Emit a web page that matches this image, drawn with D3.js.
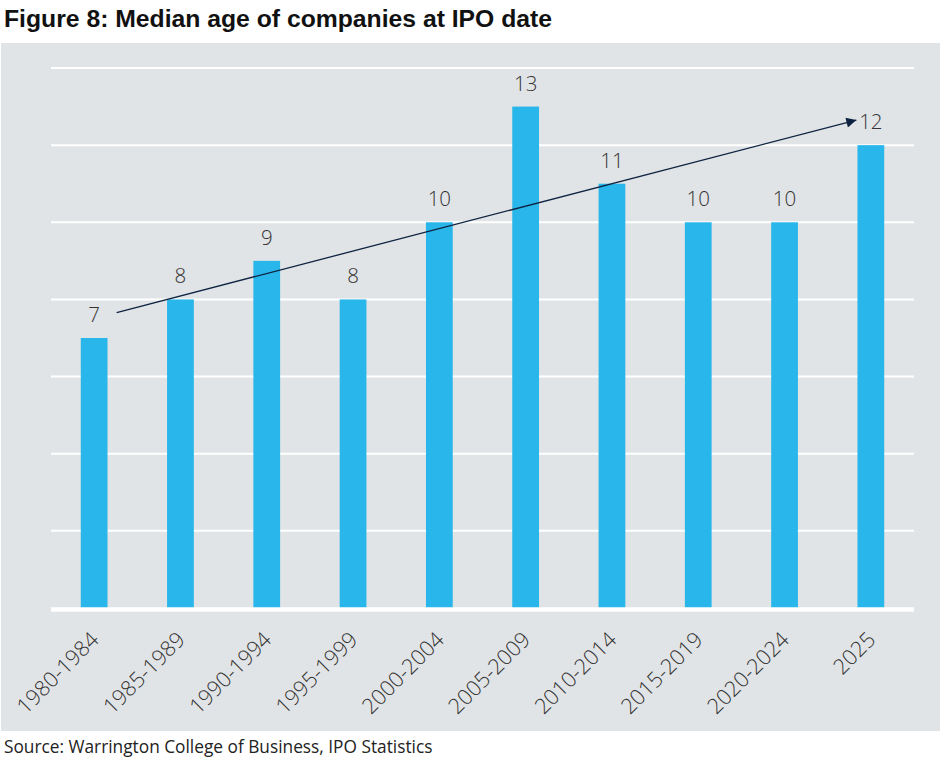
<!DOCTYPE html>
<html>
<head>
<meta charset="utf-8">
<script src="https://cdn.jsdelivr.net/npm/d3@7"></script>
<style>
  body { margin: 0; background: #fff; }
</style>
</head>
<body>
<svg id="chart"></svg>
<script>
const periods = ["1980-1984", "1985-1989", "1990-1994", "1995-1999", "2000-2004",
                 "2005-2009", "2010-2014", "2015-2019", "2020-2024", "2025"]
const medianAge = [7, 8, 9, 8, 10, 13, 11, 10, 10, 12]
const gridTicks = [0, 2, 4, 6, 8, 10, 12, 14]
const trendFrom = 7.66
const trendTo = 12.65

const width = 945
const height = 760

const svg = d3.select("#chart")
              .attr("width", width)
              .attr("height", height)

svg.append("rect")
   .attr("x", 1).attr("y", 43)
   .attr("width", 939).attr("height", 688)
   .attr("fill", "#e1e4e6")

svg.append("text")
   .attr("x", 4).attr("y", 27)
   .attr("font-family", "Liberation Sans, Arial, sans-serif")
   .attr("font-weight", "bold")
   .attr("font-size", 24)
   .attr("textLength", 548)
   .attr("lengthAdjust", "spacingAndGlyphs")
   .attr("fill", "#111")
   .text("Figure 8: Median age of companies at IPO date")

svg.append("text")
   .attr("x", 4).attr("y", 753)
   .attr("font-family", "Open Sans, sans-serif")
   .attr("font-size", 17.3)
   .attr("fill", "#222")
   .text("Source: Warrington College of Business, IPO Statistics")

const x = d3.scaleBand()
            .domain(periods)
            .range([51, 914])
            .paddingInner(0.69)
            .paddingOuter(0.345)

const y = d3.scaleLinear()
            .domain([0, 14])
            .range([608, 68])

// white gridlines
svg.append("g")
   .selectAll("line")
   .data(gridTicks.filter(d => d > 0))
   .join("line")
   .attr("x1", 51).attr("x2", 914)
   .attr("y1", d => y(d)).attr("y2", d => y(d))
   .attr("stroke", "#fff")
   .attr("stroke-width", 2)

svg.append("g")
   .selectAll("rect")
   .data(medianAge)
   .join("rect")
   .attr("x", (d, i) => x(periods[i]))
   .attr("y", d => y(d))
   .attr("width", x.bandwidth())
   .attr("height", d => y(0) - y(d))
   .attr("fill", "#29b6ea")

// baseline
svg.append("line")
   .attr("x1", 51).attr("x2", 914)
   .attr("y1", y(0) + 1.5).attr("y2", y(0) + 1.5)
   .attr("stroke", "#fff")
   .attr("stroke-width", 4.5)

svg.append("g")
   .selectAll("text")
   .data(medianAge)
   .join("text")
   .attr("x", (d, i) => x(periods[i]) + x.bandwidth() / 2)
   .attr("y", d => y(d) - 16)
   .attr("text-anchor", "middle")
   .attr("font-family", "Open Sans, sans-serif")
   .attr("font-weight", 300)
   .attr("font-size", 20.5)
   .attr("fill", "#333")
   .text(d => d)

const xAxis = d3.axisBottom(x).tickSize(0).tickPadding(0)
const gx = svg.append("g")
              .attr("transform", `translate(0, ${y(0)})`)
              .call(xAxis)
gx.select(".domain").remove()
gx.selectAll("text")
  .attr("font-family", "Open Sans, sans-serif")
  .attr("font-weight", 300)
  .attr("font-size", 21.5)
  .attr("fill", "#333")
  .attr("text-anchor", "end")
  .attr("dy", null)
  .attr("transform", "translate(6, 33) rotate(-45)")

// trend arrow
const defs = svg.append("defs")
defs.append("marker")
    .attr("id", "arrowHead")
    .attr("viewBox", "0 0 10 10")
    .attr("refX", 10).attr("refY", 5)
    .attr("markerWidth", 13).attr("markerHeight", 10)
    .attr("markerUnits", "userSpaceOnUse")
    .attr("orient", "auto")
  .append("path")
    .attr("d", "M0,0 L10,5 L0,10 Z")
    .attr("fill", "#0e2341")

const first = periods[0], last = periods[periods.length - 1]
svg.append("line")
   .attr("x1", x(first) + x.bandwidth() / 2 + 22.5)
   .attr("y1", y(trendFrom))
   .attr("x2", x(last) + x.bandwidth() / 2 - 14.5)
   .attr("y2", y(trendTo))
   .attr("stroke", "#0e2341")
   .attr("stroke-width", 1.3)
   .attr("marker-end", "url(#arrowHead)")
</script>
</body>
</html>
